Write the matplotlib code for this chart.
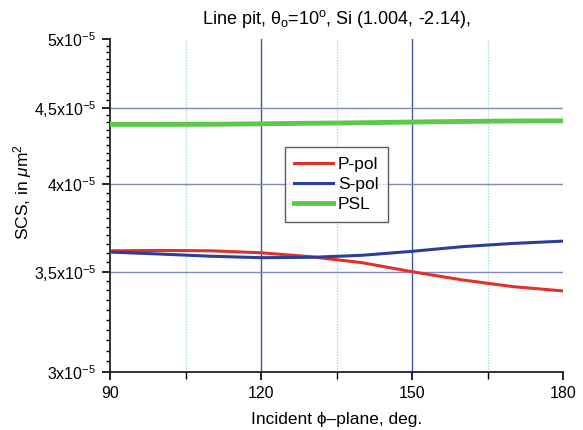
import matplotlib
matplotlib.use('Agg')
import matplotlib.pyplot as plt
import matplotlib.ticker as ticker
import numpy as np

plt.rcParams['font.family'] = ['Liberation Sans', 'DejaVu Sans']
plt.rcParams['mathtext.fontset'] = 'custom'
plt.rcParams['mathtext.rm'] = 'Liberation Sans'
plt.rcParams['mathtext.it'] = 'Liberation Sans:italic'

phi = [90, 100, 110, 120, 130, 140, 150, 160, 170, 180]
p_pol = [3.613, 3.615, 3.613, 3.602, 3.580, 3.548, 3.499, 3.455, 3.420, 3.397]
s_pol = [3.606, 3.595, 3.583, 3.575, 3.577, 3.588, 3.610, 3.636, 3.654, 3.667]
psl = [4.386, 4.386, 4.387, 4.390, 4.394, 4.397, 4.402, 4.406, 4.409, 4.410]

y_ticks = [3.0, 3.5, 4.0, 4.5, 5.0]
y_labels = ['3x10$^{-5}$', '3,5x10$^{-5}$', '4x10$^{-5}$', '4,5x10$^{-5}$', '5x10$^{-5}$']
x_ticks = [90, 120, 150, 180]
x_minor = [105, 135, 165]

scale = 1e-5

fig = plt.figure(figsize=(5.83, 4.30), dpi=100)
ax = fig.add_axes([0.1887, 0.1349, 0.777, 0.7744])

ax.set_yscale('log')
ax.set_xlim(90, 180)
ax.set_ylim(3.0 * scale, 5.0 * scale)

# grid lines
for x in x_minor:
    ax.axvline(x, color='#a8e0e6', lw=1.0, ls=(0, (1, 1)), zorder=1)
for x in [120, 150]:
    ax.axvline(x, color='#4552a8', lw=1.0, zorder=1)
for y in [3.5, 4.0, 4.5]:
    ax.axhline(y * scale, color='#7f8ac6', lw=1.0, zorder=1)

ax.plot(phi, np.array(p_pol) * scale, color='#e2302b', lw=2.2, label='P-pol', zorder=3)
ax.plot(phi, np.array(s_pol) * scale, color='#2c3f98', lw=2.2, label='S-pol', zorder=3)
ax.plot(phi, np.array(psl) * scale, color='#5dc84a', lw=3.5, label='PSL', zorder=3)

ax.yaxis.set_major_locator(ticker.FixedLocator([v * scale for v in y_ticks]))
ax.yaxis.set_major_formatter(ticker.FixedFormatter(y_labels))
minor_y = [v * scale for v in np.arange(3.05, 5.0, 0.05) if round(v * 100) % 50 != 0]
ax.yaxis.set_minor_locator(ticker.FixedLocator(minor_y))
ax.yaxis.set_minor_formatter(ticker.NullFormatter())

ax.set_xticks(x_ticks)
ax.set_xticks(x_minor, minor=True)

ax.spines['top'].set_visible(False)
ax.spines['right'].set_visible(False)
ax.spines['left'].set_linewidth(1.3)
ax.spines['bottom'].set_linewidth(1.3)
ax.spines['left'].set_color('#222222')
ax.spines['bottom'].set_color('#222222')

ax.tick_params(axis='both', which='major', direction='out', length=6, width=1.2, labelsize=11.5, pad=4)
ax.tick_params(axis='y', which='minor', direction='out', length=3, width=1.0)
ax.tick_params(axis='x', which='minor', direction='out', length=5, width=1.0)

ax.set_title(r'Line pit, θ$_{\rm o}$=10$^{\rm o}$, Si (1.004, -2.14),', fontsize=13, pad=11)
ax.set_xlabel('Incident ϕ–plane, deg.', fontsize=12.5, labelpad=8)
ax.set_ylabel(r'SCS, in $\mu$m$^2$', fontsize=12.5)
ax.yaxis.set_label_coords(-0.168, 0.54)

leg = ax.legend(loc='upper left', bbox_to_anchor=(0.386, 0.676), fontsize=12.5,
                frameon=True, fancybox=False, edgecolor='#333333',
                handlelength=2.2, handletextpad=0.3, labelspacing=0.3,
                borderpad=0.55, borderaxespad=0)
leg.get_frame().set_linewidth(1.0)

plt.savefig('out.png', dpi=100)
